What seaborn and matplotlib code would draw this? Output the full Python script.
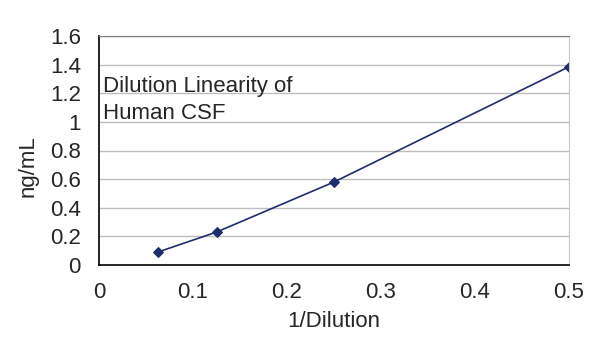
import matplotlib
matplotlib.use("Agg")
import matplotlib.pyplot as plt
import seaborn as sns
import pandas as pd

inv_dilution = [0.0625, 0.125, 0.25, 0.5]
conc_ng_ml = [0.09, 0.23, 0.58, 1.385]
x_ticks = [0, 0.1, 0.2, 0.3, 0.4, 0.5]
y_ticks = [0, 0.2, 0.4, 0.6, 0.8, 1, 1.2, 1.4, 1.6]
y_labels = ["0", "0.2", "0.4", "0.6", "0.8", "1", "1.2", "1.4", "1.6"]
x_labels = ["0", "0.1", "0.2", "0.3", "0.4", "0.5"]

df = pd.DataFrame({"x": inv_dilution, "y": conc_ng_ml})

sns.set_style("white")
plt.rcParams["font.family"] = ["Liberation Sans", "DejaVu Sans"]

fig = plt.figure(figsize=(6, 3.57), dpi=100)
ax = fig.add_axes([99 / 600, 1 - 265 / 357, 470 / 600, 229 / 357])

# light grey horizontal gridlines like the Excel original
for yt in y_ticks[1:]:
    ax.axhline(yt, color="#bdbdbd", lw=1, zorder=0)

sns.lineplot(data=df, x="x", y="y", ax=ax, color="#1f2d6b", lw=1.2,
             marker="D", markersize=5, markeredgecolor="#1f2d6b")

ax.set_xlim(0, 0.5)
ax.set_ylim(0, 1.6)
ax.set_xticks(x_ticks)
ax.set_xticklabels(x_labels)
ax.set_yticks(y_ticks)
ax.set_yticklabels(y_labels)
ax.tick_params(axis="x", direction="in", length=4, width=1, color="#555555",
               labelsize=16, pad=12)
ax.tick_params(axis="y", length=0, labelsize=16, pad=13)

for side in ["left", "bottom"]:
    ax.spines[side].set_color("black")
    ax.spines[side].set_linewidth(1.2)
ax.spines["right"].set_color("#c8c8c8")
ax.spines["top"].set_color("#7a7a7a")

ax.set_xlabel("1/Dilution", fontsize=16, labelpad=6)
ax.set_ylabel("ng/mL", fontsize=16)
ax.yaxis.set_label_coords(-0.128, 0.43)

ax.text(0.004, 0.985, "Dilution Linearity of\nHuman CSF", fontsize=16,
        ha="left", va="bottom", linespacing=1.35)

fig.savefig("out.png", dpi=100)
